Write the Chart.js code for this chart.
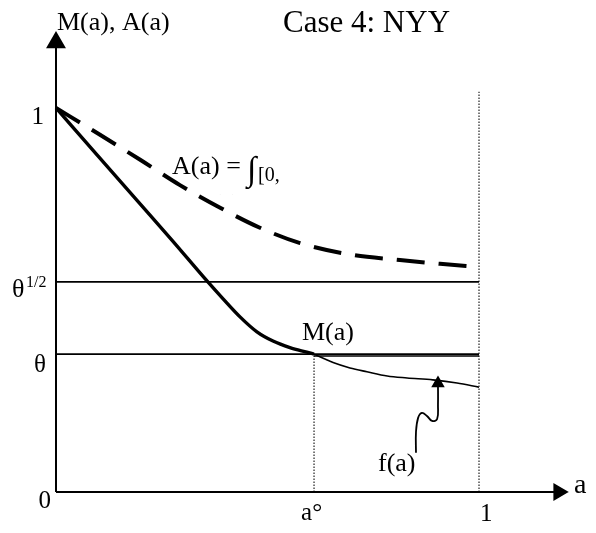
<!DOCTYPE html>
<html>
<head>
<meta charset="utf-8">
<script src="https://cdn.jsdelivr.net/npm/chart.js@4"></script>
<style>
  html, body { margin: 0; padding: 0; background: #fff; }
  #wrap { width: 596px; height: 533px; position: relative; }
</style>
</head>
<body>
<div id="wrap"><canvas id="chart"></canvas></div>
<script>
/* ── Data ──────────────────────────────────────────────────── */

const xMax = 1.208;          // end of the a axis (arrow tip)
const yMax = 1.195;          // end of the M(a), A(a) axis (arrow tip)
const theta = 0.359;
const thetaHalf = 0.547;
const aStar = 0.61;

// M(a): thick solid, from 1 down to theta at a°
const mX = [0, 0.097, 0.191, 0.274, 0.359, 0.395, 0.435, 0.475, 0.513, 0.553, 0.593, 0.610];
const mY = [1.0, 0.878, 0.760, 0.656, 0.547, 0.503, 0.456, 0.417, 0.393, 0.376, 0.364, 0.359];

// f(a): thin solid, below theta after a°
const fX = [0.610, 0.655, 0.695, 0.735, 0.783, 0.830, 0.891, 0.948, 1.0];
const fY = [0.359, 0.337, 0.323, 0.313, 0.302, 0.297, 0.292, 0.284, 0.273];

// A(a): thick dashed
const aX = [0, 0.104, 0.199, 0.293, 0.388, 0.482, 0.577, 0.702, 0.813, 0.908, 1.0];
const aY = [1.0, 0.930, 0.865, 0.799, 0.740, 0.688, 0.648, 0.617, 0.604, 0.594, 0.586];

// wavy pointer from the f(a) label up to the curve
const ptrX = [0.851, 0.851, 0.856, 0.865, 0.877, 0.889, 0.901, 0.903, 0.903];
const ptrY = [0.102, 0.156, 0.193, 0.206, 0.198, 0.185, 0.190, 0.227, 0.283];

// tick labels
const yTicks = [0, theta, thetaHalf, 1];
const xTicks = [aStar, 1];

/* ── Helpers ───────────────────────────────────────────────── */

const pts = (xs, ys) => xs.map((x, i) => ({ x, y: ys[i] }));

function line(data, width, extra) {
  return Object.assign({
    data, showLine: true, borderColor: "#000", backgroundColor: "#000",
    borderWidth: width, pointRadius: 0, fill: false, clip: false,
  }, extra || {});
}

const SERIF = "'Liberation Serif', 'Times New Roman', serif";

// text labels and annotations, drawn after the datasets
const textPlugin = {
  id: "texts",
  afterDatasetsDraw(chart) {
    const { ctx } = chart;
    const xs = chart.scales.x, ys = chart.scales.y;
    const txt = (s, x, y, size, align) => {
      ctx.font = `${size}px ${SERIF}`;
      ctx.textAlign = align || "left";
      ctx.fillText(s, x, y);
    };
    ctx.save();
    ctx.fillStyle = "#000";
    ctx.textBaseline = "alphabetic";

    txt("M(a), A(a)", 57, 30, 26);
    txt("Case 4: NYY", 283, 32, 31);

    // y tick labels
    txt("0", 51, ys.getPixelForValue(yTicks[0]) + 16, 25, "right");
    txt("θ", 46, ys.getPixelForValue(yTicks[1]) + 18, 25, "right");
    txt("θ", 12, ys.getPixelForValue(yTicks[2]) + 15, 26);
    txt("1/2", 26, ys.getPixelForValue(yTicks[2]) + 5, 16);
    txt("1", 44, ys.getPixelForValue(yTicks[3]) + 16, 25, "right");

    // x tick labels
    txt("a°", xs.getPixelForValue(xTicks[0]) - 13, 520, 25);
    txt("1", xs.getPixelForValue(xTicks[1]) + 1, 521, 25);
    txt("a", 574, 493, 28);

    // curve labels
    txt("M(a)", 302, 340, 26);
    txt("f(a)", 378, 471, 26);
    txt("A(a) = ", 172, 174, 26);
    txt("∫", 247, 180, 34);
    txt("[0,", 258, 181, 20);

    // clipped second line of the A(a) label
    ctx.save();
    ctx.beginPath();
    ctx.rect(200, 189, 90, 6);
    ctx.clip();
    ctx.fillStyle = "#555";
    txt("f(a) da/a", 205, 211, 24);
    ctx.restore();

    ctx.restore();
  },
};

/* ── Chart ─────────────────────────────────────────────────── */

new Chart(document.getElementById("chart"), {
  type: "scatter",
  data: {
    datasets: [
      // axes with arrowheads
      line([{ x: 0, y: 0 }, { x: 0, y: 1.170 }], 2,
        { pointRadius: [0, 9.5], pointStyle: "triangle" }),
      line([{ x: 0, y: 0 }, { x: 1.188, y: 0 }], 2,
        { pointRadius: [0, 8.3], pointStyle: "triangle", pointRotation: 90 }),

      // reference levels
      line([{ x: 0, y: thetaHalf }, { x: 1, y: thetaHalf }], 1.6),
      line([{ x: 0, y: theta }, { x: 1, y: theta }], 1.6),
      line([{ x: aStar, y: theta - 0.005 }, { x: 1, y: theta - 0.005 }], 1.4),

      // dotted verticals at a° and 1
      line([{ x: aStar, y: 0 }, { x: aStar, y: theta }], 1.3,
        { borderDash: [1.5, 1.5], borderColor: "#333" }),
      line([{ x: 1, y: 0 }, { x: 1, y: 1.042 }], 1.3,
        { borderDash: [1.5, 1.5], borderColor: "#333" }),

      // curves
      line(pts(aX, aY), 4, { borderDash: [28, 14], cubicInterpolationMode: "monotone" }),
      line(pts(mX, mY), 3.4, { cubicInterpolationMode: "monotone" }),
      line(pts(fX, fY), 1.6, { cubicInterpolationMode: "monotone" }),

      // wavy pointer
      line(pts(ptrX, ptrY), 1.8, {
        tension: 0.4,
        pointStyle: "triangle",
        pointRadius: ptrX.map((_, i) => (i === ptrX.length - 1 ? 6 : 0)),
      }),
    ],
  },
  options: {
    responsive: true,
    maintainAspectRatio: false,
    animation: false,
    events: [],
    layout: { padding: { left: 56, right: 29, top: 33, bottom: 41 } },
    plugins: { legend: { display: false }, tooltip: { enabled: false } },
    scales: {
      x: { type: "linear", min: 0, max: xMax, display: false },
      y: { type: "linear", min: 0, max: yMax, display: false },
    },
  },
  plugins: [textPlugin],
});
</script>
</body>
</html>
